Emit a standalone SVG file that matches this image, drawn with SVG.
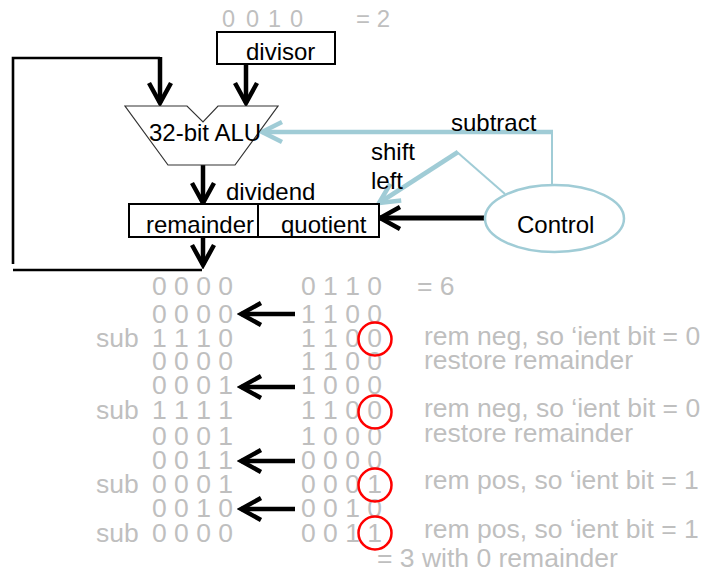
<svg xmlns="http://www.w3.org/2000/svg" width="704" height="581" viewBox="0 0 704 581">
  <style>
    .lbl { font-family: "Liberation Sans", Arial, sans-serif; font-size: 24px; fill: #000; }
    .gray { font-family: "Liberation Sans", Arial, sans-serif; font-size: 26.5px; fill: #bfbfbf; }
    .box { fill: #fff; stroke: #000; stroke-width: 2; }
    .wire { fill: none; stroke: #000; stroke-width: 2.6; }
    .bus { fill: none; stroke: #000; stroke-width: 4.5; marker-end: url(#chev); }
    .ctl { fill: none; stroke: #a0ccd6; }
    .ring { fill: none; stroke: #ff0000; stroke-width: 2.5; }
  </style>
  <defs>
    <marker id="chev" viewBox="-24 -14 28 28" refX="0" refY="0" markerWidth="28" markerHeight="28" markerUnits="userSpaceOnUse" orient="auto">
      <path d="M-20,-11 L0,0 L-20,11" fill="none" stroke="#000" stroke-width="4.5" stroke-linejoin="miter"/>
    </marker>
    <marker id="chevBlue" viewBox="-24 -14 28 28" refX="0" refY="0" markerWidth="28" markerHeight="28" markerUnits="userSpaceOnUse" orient="auto">
      <path d="M-20,-10 L0,0 L-20,10" fill="none" stroke="#a0ccd6" stroke-width="4.5" stroke-linejoin="miter"/>
    </marker>
  </defs>

  <!-- divisor value -->
  <text class="gray" style="font-size:23.5px" x="222 246 268 290" y="27">0010</text>
  <text class="gray" style="font-size:24px" x="356" y="27">= 2</text>

  <!-- datapath connectors -->
  <g id="connectors">
    <polyline class="wire" points="202,270 13,270"/>
    <polyline class="wire" points="13,264 13,58 160,58"/>
    <line class="bus" x1="160" y1="57" x2="160" y2="103"/>
    <line class="bus" x1="246" y1="64" x2="246" y2="103"/>
    <line class="bus" x1="203" y1="165" x2="203" y2="203"/>
    <line class="bus" x1="203" y1="237" x2="203" y2="265"/>
    <line class="bus" style="stroke-width:5" x1="485" y1="218" x2="380" y2="218"/>
    <!-- control signals -->
    <line class="ctl" stroke-width="2" x1="552" y1="190" x2="552" y2="131"/>
    <line class="ctl" stroke-width="4.5" x1="553" y1="132" x2="262" y2="132" marker-end="url(#chevBlue)"/>
    <line class="ctl" stroke-width="2" x1="505" y1="194" x2="457" y2="152"/>
    <line class="ctl" stroke-width="4.5" x1="458" y1="152" x2="379" y2="203" marker-end="url(#chevBlue)"/>
  </g>

  <g id="divisor">
    <rect class="box" x="217" y="32" width="118" height="32"/>
    <text class="lbl" x="246" y="60">divisor</text>
  </g>

  <g id="alu">
    <polygon points="125,106 187,106 203,122 218,106 278,106 235,165 168,165" fill="#fff" stroke="#333" stroke-width="1.2"/>
    <text class="lbl" x="149" y="141">32-bit ALU</text>
  </g>

  <g id="dividend">
    <text class="lbl" x="226" y="200">dividend</text>
  </g>

  <g id="remainder">
    <rect class="box" x="129" y="204" width="129" height="33"/>
    <text class="lbl" x="146" y="233">remainder</text>
  </g>

  <g id="quotient">
    <rect class="box" x="258" y="204" width="121" height="33"/>
    <text class="lbl" x="281" y="233">quotient</text>
  </g>

  <g id="control">
    <ellipse cx="554.5" cy="218.5" rx="69.5" ry="33.5" fill="#fff" stroke="#a0ccd6" stroke-width="2.5"/>
    <text class="lbl" x="517" y="233">Control</text>
  </g>

  <g id="signal-labels">
    <text class="lbl" x="451" y="131">subtract</text>
    <text class="lbl" x="371" y="160">shift</text>
    <text class="lbl" x="371" y="189">left</text>
  </g>

  <!-- worked example: 6 / 2 -->
  <g id="trace">
    <text class="gray" x="152" y="295">0 0 0 0</text>
    <text class="gray" x="301" y="295">0 1 1 0</text>
    <text class="gray" x="417" y="295">= 6</text>

    <text class="gray" x="152" y="323">0 0 0 0</text>
    <text class="gray" x="301" y="323">1 1 0 0</text>

    <text class="gray" x="96" y="347">sub</text>
    <text class="gray" x="152" y="347">1 1 1 0</text>
    <text class="gray" x="301" y="347">1 1 0 0</text>
    <text class="gray" x="424" y="345">rem neg, so ‘ient bit = 0</text>

    <text class="gray" x="152" y="370">0 0 0 0</text>
    <text class="gray" x="301" y="370">1 1 0 0</text>
    <text class="gray" x="424" y="369">restore remainder</text>

    <text class="gray" x="152" y="394">0 0 0 1</text>
    <text class="gray" x="301" y="394">1 0 0 0</text>

    <text class="gray" x="96" y="419">sub</text>
    <text class="gray" x="152" y="419">1 1 1 1</text>
    <text class="gray" x="301" y="419">1 1 0 0</text>
    <text class="gray" x="424" y="417">rem neg, so ‘ient bit = 0</text>

    <text class="gray" x="152" y="445">0 0 0 1</text>
    <text class="gray" x="301" y="445">1 0 0 0</text>
    <text class="gray" x="424" y="442">restore remainder</text>

    <text class="gray" x="152" y="469">0 0 1 1</text>
    <text class="gray" x="301" y="469">0 0 0 0</text>

    <text class="gray" x="96" y="493">sub</text>
    <text class="gray" x="152" y="493">0 0 0 1</text>
    <text class="gray" x="301" y="493">0 0 0 1</text>
    <text class="gray" x="424" y="489">rem pos, so ‘ient bit = 1</text>

    <text class="gray" x="152" y="517">0 0 1 0</text>
    <text class="gray" x="301" y="517">0 0 1 0</text>

    <text class="gray" x="96" y="542">sub</text>
    <text class="gray" x="152" y="542">0 0 0 0</text>
    <text class="gray" x="301" y="542">0 0 1 1</text>
    <text class="gray" x="424" y="538">rem pos, so ‘ient bit = 1</text>

    <text class="gray" x="377" y="567">= 3 with 0 remainder</text>
  </g>

  <g id="shift-arrows">
    <line class="bus" x1="295" y1="314" x2="241" y2="314"/>
    <line class="bus" x1="295" y1="387" x2="241" y2="387"/>
    <line class="bus" x1="295" y1="461" x2="241" y2="461"/>
    <line class="bus" x1="295" y1="509" x2="241" y2="509"/>
  </g>

  <g id="quotient-bits">
    <circle class="ring" cx="375" cy="339" r="16.5"/>
    <circle class="ring" cx="375" cy="412" r="16.5"/>
    <circle class="ring" cx="375" cy="485" r="16.5"/>
    <circle class="ring" cx="375" cy="533" r="16.5"/>
  </g>
</svg>
